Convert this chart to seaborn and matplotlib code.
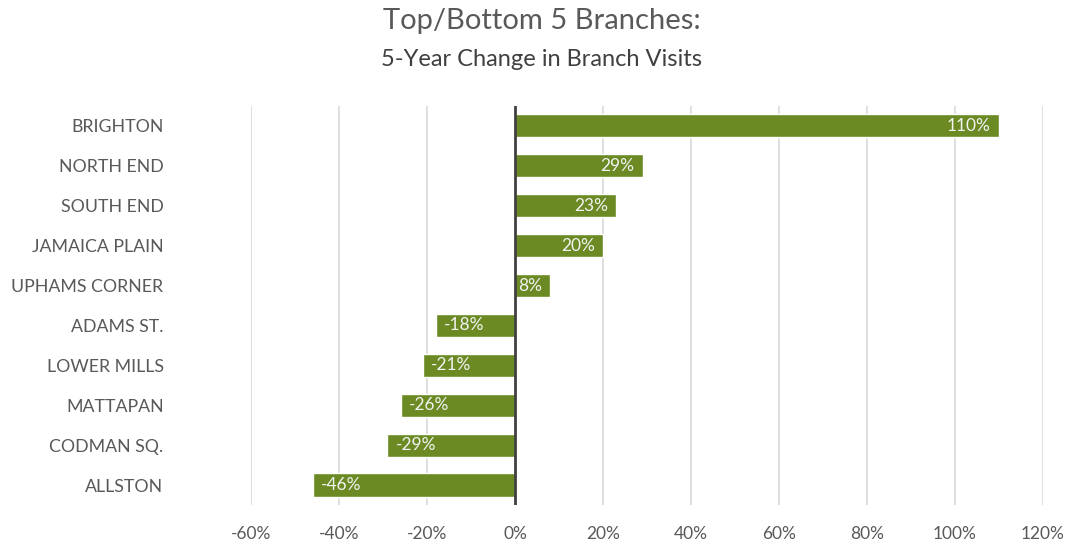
import matplotlib
matplotlib.use("Agg")
import matplotlib.pyplot as plt
import seaborn as sns
import pandas as pd

branches = ["BRIGHTON", "NORTH END", "SOUTH END", "JAMAICA PLAIN", "UPHAMS CORNER",
            "ADAMS ST.", "LOWER MILLS", "MATTAPAN", "CODMAN SQ.", "ALLSTON"]
change_pct = [110, 29, 23, 20, 8, -18, -21, -26, -29, -46]
x_ticks = [-60, -40, -20, 0, 20, 40, 60, 80, 100, 120]

title = "Top/Bottom 5 Branches:"
subtitle = "5-Year Change in Branch Visits"

bar_color = "#6B8A24"
text_gray = "#595959"

sns.set_theme(style="white")
plt.rcParams["font.family"] = ["Lato", "DejaVu Sans"]

df = pd.DataFrame({"branch": branches, "change": change_pct})

fig = plt.figure(figsize=(10.7, 5.44), dpi=100)
ax = fig.add_axes([0.2346, 0.0717, 0.7402, 0.7335])

sns.barplot(data=df, x="change", y="branch", orient="h", color=bar_color,
            width=0.58, saturation=1, ax=ax)

ax.set_xlim(x_ticks[0], x_ticks[-1])
ax.set_ylim(len(branches) - 0.5, -0.5)
ax.set_xticks(x_ticks)
ax.set_xticklabels([f"{t}%" for t in x_ticks])
ax.set_xlabel("")
ax.set_ylabel("")

# vertical gridlines
for t in x_ticks:
    if t != 0:
        ax.axvline(t, color="#D9D9D9", lw=1.2, zorder=0)
ax.axvline(0, color="#404040", lw=2, zorder=3)

for s in ax.spines.values():
    s.set_visible(False)

ax.tick_params(axis="x", length=0, pad=15, labelsize=12.5, labelcolor=text_gray)
ax.tick_params(axis="y", length=0, pad=63, labelsize=12.8, labelcolor=text_gray)

# value labels inside the bar ends
for i, v in enumerate(change_pct):
    if v >= 0:
        ax.annotate(f"{v}%", xy=(v, i), xytext=(-6, 0), textcoords="offset points",
                    ha="right", va="center", color="#F2F2F2", fontsize=12.5)
    else:
        ax.annotate(f"{v}%", xy=(v, i), xytext=(6, 0), textcoords="offset points",
                    ha="left", va="center", color="#F2F2F2", fontsize=12.5)

fig.text(0.506, 0.962, title, ha="center", va="center", fontsize=21, color=text_gray)
fig.text(0.506, 0.89, subtitle, ha="center", va="center", fontsize=17, color="#404040")

fig.savefig("out.png", dpi=100, facecolor="white")
